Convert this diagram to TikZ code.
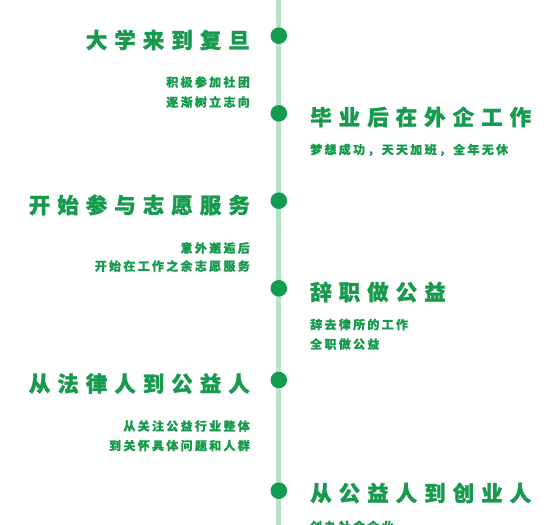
\documentclass[tikz,border=0pt]{standalone}
\usepackage{fontspec}
\newfontfamily\cjk{Noto Sans CJK SC}
\newfontfamily\cjkheavy{Noto Sans CJK SC}[BoldFeatures={FakeBold=1.2}]
\newfontfamily\cjksub{Noto Sans CJK SC}[BoldFeatures={FakeBold=0.6}]
\definecolor{tgreen}{RGB}{24,154,78}
\definecolor{dgreen}{RGB}{20,155,82}
\definecolor{lgreen}{RGB}{184,226,200}
\newdimen\chgap
\def\spc#1{\spcA#1\relax}
\def\spcA#1{\ifx#1\relax\else#1\expandafter\spcB\fi}
\def\spcB#1{\ifx#1\relax\else\kern\chgap#1\expandafter\spcB\fi}
\newcommand\ttl[1]{{\fontsize{21.5pt}{21.5pt}\selectfont\chgap=7pt\spc{#1}}}
\newcommand\sbt[1]{{\fontsize{12pt}{12pt}\selectfont\chgap=2.3pt\spc{#1}}}
\tikzset{
  title/.style={inner sep=0pt, text=tgreen, font=\cjkheavy\bfseries},
  sub/.style={inner sep=0pt, text=tgreen, font=\cjksub\bfseries},
  dot/.style={circle, fill=dgreen, minimum size=16.6pt, inner sep=0pt},
  axis/.style={draw=lgreen, line width=4.5pt}
}
\begin{document}
\begin{tikzpicture}[x=1pt,y=-1pt]
\useasboundingbox (0,0) rectangle (560,525);
\clip (0,0) rectangle (560,525);
\coordinate (top) at (278.6,-2);
\coordinate (bot) at (278.6,530);
\draw[axis] (top) -- (bot);
\node[dot] (d1) at (278.8,35.7) {};
\node[dot] (d2) at (278.8,113.3) {};
\node[dot] (d3) at (278.8,200.7) {};
\node[dot] (d4) at (278.8,288.3) {};
\node[dot] (d5) at (278.8,380) {};
\node[dot] (d6) at (278.8,490.7) {};
% left side
\node[title, anchor=base east] (t1) at (250,48.2) {\ttl{大学来到复旦}};
\node[sub, anchor=base east] (s1a) at (250,86.6) {\sbt{积极参加社团}};
\node[sub, anchor=base east] (s1b) at (250,106.6) {\sbt{逐渐树立志向}};
\node[title, anchor=base east] (t3) at (250,213.2) {\ttl{开始参与志愿服务}};
\node[sub, anchor=base east] (s3a) at (250,252.6) {\sbt{意外邂逅后}};
\node[sub, anchor=base east] (s3b) at (250,270.6) {\sbt{开始在工作之余志愿服务}};
\node[title, anchor=base east] (t5) at (250,391.7) {\ttl{从法律人到公益人}};
\node[sub, anchor=base east] (s5a) at (250,430.6) {\sbt{从关注公益行业整体}};
\node[sub, anchor=base east] (s5b) at (250,450.1) {\sbt{到关怀具体问题和人群}};
% right side
\node[title, anchor=base west] (t2) at (310,125.2) {\ttl{毕业后在外企工作}};
\node[sub, anchor=base west] (s2) at (310,154.1) {\sbt{梦想成功，天天加班，全年无休}};
\node[title, anchor=base west] (t4) at (310,300.2) {\ttl{辞职做公益}};
\node[sub, anchor=base west] (s4a) at (310,329.1) {\sbt{辞去律所的工作}};
\node[sub, anchor=base west] (s4b) at (310,348.6) {\sbt{全职做公益}};
\node[title, anchor=base west] (t6) at (310,501.2) {\ttl{从公益人到创业人}};
\node[sub, anchor=base west] (s6) at (310,531) {\sbt{创办社会企业}};
\end{tikzpicture}
\end{document}
